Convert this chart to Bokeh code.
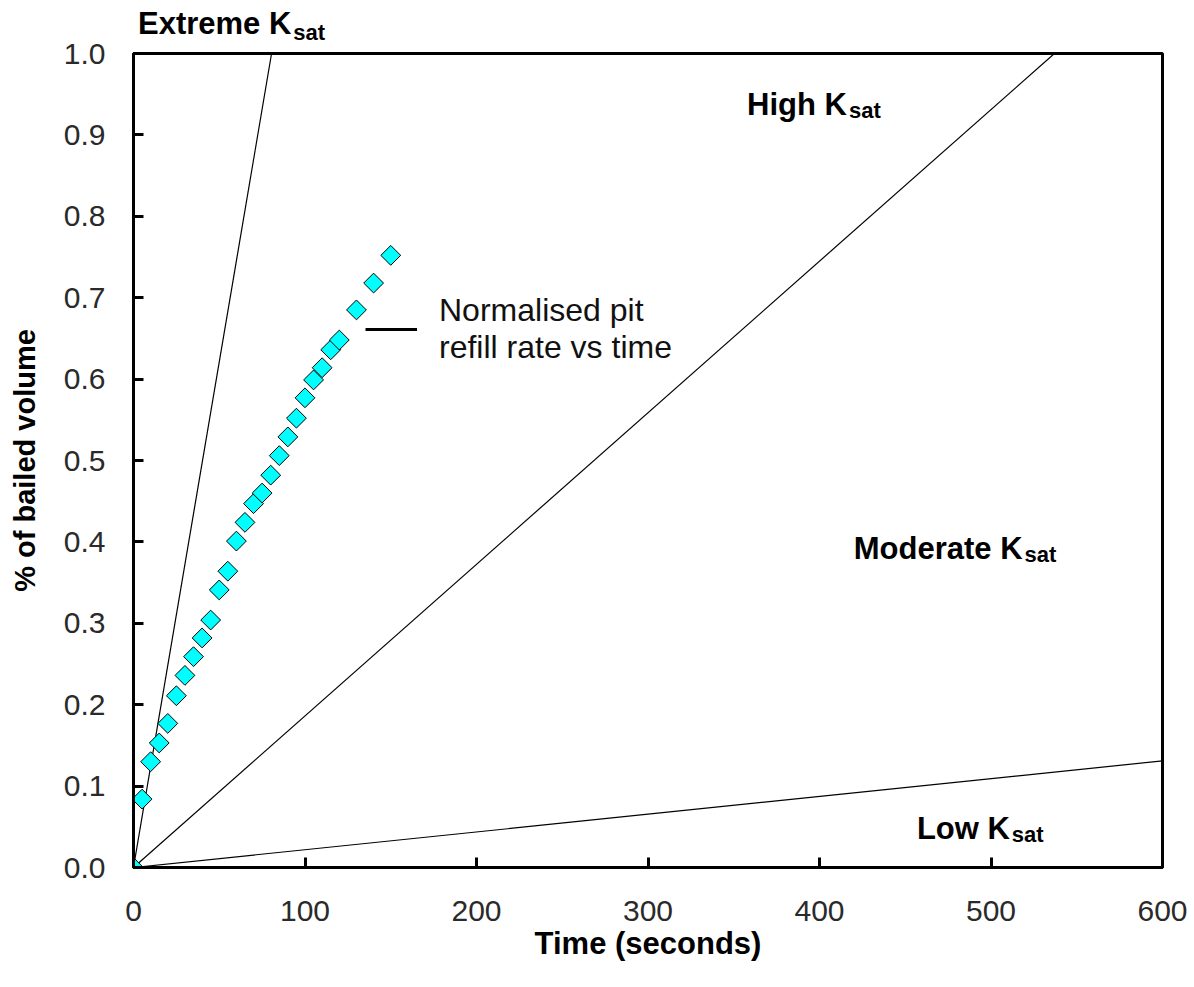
from bokeh.plotting import figure
from bokeh.models import (ColumnDataSource, Range1d, SingleIntervalTicker,
                          PrintfTickFormatter, Label, Legend, LegendItem, Div)
from bokeh.layouts import column
from bokeh.embed import file_html
from bokeh.resources import INLINE
import math

# ---- data ----
time_s = [0, 5, 10, 15, 20, 25, 30, 35, 40, 45, 50, 55, 60, 65, 70, 75,
          80, 85, 90, 95, 100, 105, 110, 115, 120, 130, 140, 150]
bailed_frac = [0.0, 0.084, 0.130, 0.153, 0.177, 0.211, 0.236, 0.259, 0.282,
               0.304, 0.341, 0.364, 0.401, 0.424, 0.447, 0.460, 0.482, 0.506,
               0.529, 0.552, 0.577, 0.599, 0.614, 0.636, 0.648, 0.685, 0.718,
               0.752]

# K_sat boundary lines (start at origin, end point)
ksat_line_names = ["Extreme", "High", "Low"]
ksat_line_end_time = [80.5, 537.0, 600.0]
ksat_line_end_frac = [1.0, 1.0, 0.131]

series_label = "Normalised pit\nrefill rate vs time"
x_axis_title = "Time (seconds)"
y_axis_title = "% of bailed volume"

FONT = "Liberation Sans"

p = figure(frame_width=1029, frame_height=814,
           min_border_left=133, min_border_right=32,
           min_border_top=20, min_border_bottom=120,
           x_range=Range1d(0, 600), y_range=Range1d(0, 1.0),
           output_backend="svg", toolbar_location=None,
           background_fill_color="white", border_fill_alpha=0,
           margin=0)

p.grid.visible = False
p.outline_line_color = "black"
p.outline_line_width = 3
p.outline_line_alpha = 1.0

p.xaxis.ticker = SingleIntervalTicker(interval=100)
p.yaxis.ticker = SingleIntervalTicker(interval=0.1)
p.yaxis.formatter = PrintfTickFormatter(format="%.1f")

for ax in (p.xaxis[0], p.yaxis[0]):
    ax.axis_line_width = 3
    ax.axis_line_color = "black"
    ax.major_tick_in = 10
    ax.major_tick_out = 0
    ax.major_tick_line_width = 3
    ax.minor_tick_in = 0
    ax.minor_tick_out = 0
    ax.major_label_text_font = FONT
    ax.major_label_text_font_size = "30px"
    ax.major_label_text_color = "#2a2a2a"
    ax.axis_label_text_font = FONT
    ax.axis_label_text_font_style = "bold"
    ax.axis_label_text_color = "black"

p.xaxis.axis_label = x_axis_title
p.xaxis.axis_label_text_font_size = "31px"
p.xaxis.major_label_standoff = 33
p.xaxis.axis_label_standoff = 2

p.yaxis.axis_label = y_axis_title
p.yaxis.axis_label_text_font_size = "29px"
p.yaxis.major_label_standoff = 28
p.yaxis.axis_label_standoff = 20

# K_sat boundary lines
line_src = ColumnDataSource(dict(
    x0=[0.0] * len(ksat_line_names), y0=[0.0] * len(ksat_line_names),
    x1=ksat_line_end_time, y1=ksat_line_end_frac, name=ksat_line_names))
p.segment(x0="x0", y0="y0", x1="x1", y1="y1", source=line_src,
          line_color="black", line_width=1.2)

# data points (diamonds)
pts = ColumnDataSource(dict(t=time_s, v=bailed_frac))
p.scatter(x="t", y="v", source=pts, marker="square", size=14,
          angle=math.pi / 4, fill_color="#00FFFF", line_color="black",
          line_width=1)

# legend-style entry (line symbol + two-line label); the renderer itself
# draws nothing (NaN point) and only provides the legend line symbol
leg_r = p.line(x=[float("nan")], y=[float("nan")], line_color="black",
               line_width=3)
legend = Legend(items=[LegendItem(label=series_label, renderers=[leg_r])],
                location=(232, 501), margin=0, padding=0,
                glyph_width=52, glyph_height=66, label_standoff=22,
                label_text_font=FONT, label_text_font_size="32px",
                label_text_line_height=1.0, label_text_color="#111111",
                border_line_alpha=0, background_fill_alpha=0)
p.add_layout(legend)

# region annotations "... K" + subscript "sat"
annots = [("High K", 416.0, 0.937), ("Moderate K", 518.4, 0.392),
          ("Low K", 511.0, 0.048)]
for txt, ax_, ay in annots:
    p.add_layout(Label(x=ax_, y=ay, text=txt, text_align="right",
                       text_baseline="alphabetic", text_font=FONT,
                       text_font_size="31px", text_font_style="bold",
                       text_color="black"))
    p.add_layout(Label(x=ax_, y=ay, x_offset=2, y_offset=-6, text="sat",
                       text_align="left", text_baseline="alphabetic",
                       text_font=FONT, text_font_size="22px",
                       text_font_style="bold", text_color="black"))

# "Extreme K_sat" sits above the plot frame: rendered as an HTML header
header = Div(
    text=('<div style="font-family:\'Liberation Sans\',Arial,sans-serif;'
          'font-weight:bold;font-size:31px;line-height:31px;color:black;'
          'padding-left:138px;padding-top:8px;white-space:nowrap;">'
          'Extreme K<span style="font-size:22px;position:relative;top:6px;'
          'margin-left:2px;">sat</span></div>'),
    width=1194, height=33, margin=0, styles={"overflow": "visible"})

layout = column(header, p, spacing=0, margin=0,
                styles={"background-color": "white"})

open("out.html", "w").write(file_html(layout, INLINE))
